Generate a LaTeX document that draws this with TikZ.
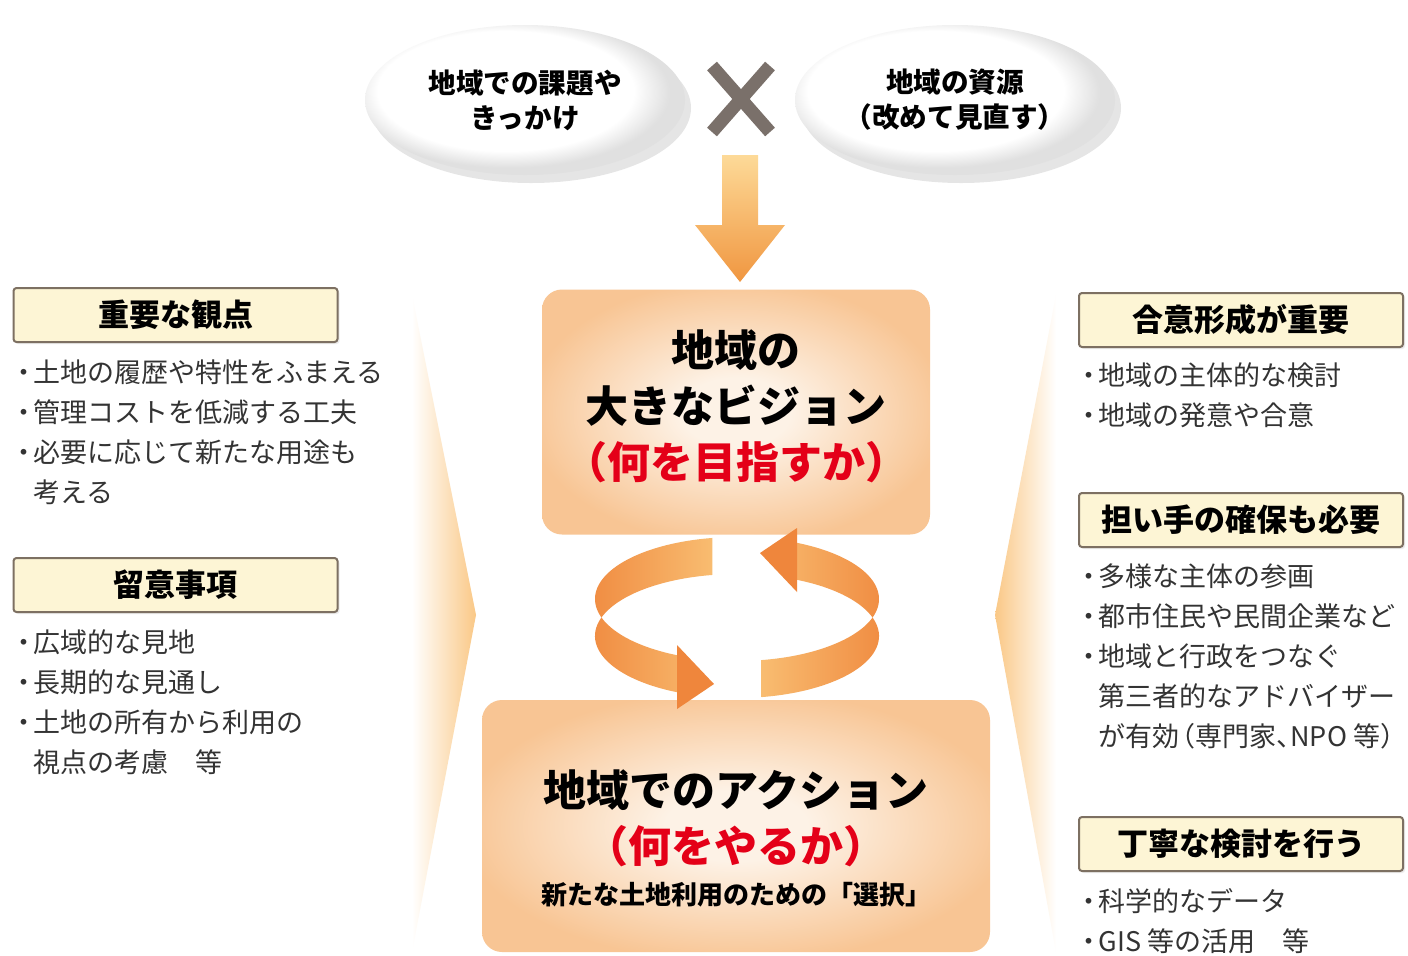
\documentclass[tikz,border=0pt]{standalone}
\usepackage{fontspec}
\setmainfont{Noto Sans CJK JP}
\usetikzlibrary{shapes.geometric, shadows}

\definecolor{boxin}{RGB}{253,242,230}
\definecolor{boxout}{RGB}{248,197,148}
\definecolor{labelfill}{RGB}{253,245,213}
\definecolor{labeldraw}{RGB}{125,112,98}
\definecolor{askred}{RGB}{228,0,24}
\definecolor{crossgray}{RGB}{122,112,106}
\definecolor{arrowtop}{RGB}{253,218,152}
\definecolor{arrowbot}{RGB}{240,150,64}
\definecolor{ringdark}{RGB}{239,134,60}
\definecolor{ringlight}{RGB}{250,198,122}
\definecolor{chevron}{RGB}{250,200,134}

\pgfdeclareradialshading{boxglow}{\pgfpoint{0bp}{0bp}}{color(0bp)=(boxin); color(7bp)=(boxin); color(27bp)=(boxout); color(50bp)=(boxout)}
\pgfdeclareradialshading{ovalglow}{\pgfpoint{-5bp}{5bp}}{color(0bp)=(white); color(20bp)=(white); color(25bp)=(black!12); color(50bp)=(black!12)}

\newcommand{\bul}{\makebox[0.75em][c]{・}}
\newcommand{\bulgap}{\hspace*{0.75em}}
\newcommand{\lp}{\makebox[0.6em][r]{（}}
\newcommand{\rp}{\makebox[0.6em][l]{）}}
\newcommand{\tou}{\makebox[0.5em][l]{、}}

\begin{document}
\begin{tikzpicture}[
    x=0.5pt, y=0.5pt,
    oval/.style={ellipse, shade, shading=ovalglow, minimum width=160pt, minimum height=75pt, align=center, font=\fontsize{13.8}{17.5}\selectfont\bfseries, drop shadow={shadow xshift=3pt, shadow yshift=-4pt, opacity=0.2}},
    stage/.style={rectangle, rounded corners=10pt, shade, shading=boxglow, align=center, font=\fontsize{21.5}{28}\selectfont\bfseries},
    heading/.style={rectangle, rounded corners=1.5pt, draw=labeldraw, line width=1pt, fill=labelfill, minimum width=162pt, minimum height=27pt, font=\fontsize{15.5}{18}\selectfont\bfseries, drop shadow={shadow xshift=1pt, shadow yshift=-1pt, opacity=0.15}},
    points/.style={anchor=north west, inner sep=0pt, align=left, text=black!80, font=\fontsize{13.5}{20}\selectfont}
]
    \useasboundingbox[fill=white] (0,0) rectangle (1408,-955);

    % side chevrons
    \shade[left color=white, right color=chevron] (412,-295) -- (476,-615) -- (412,-952) -- cycle;
    \shade[left color=chevron, right color=white] (1056,-295) -- (995,-615) -- (1056,-952) -- cycle;

    \node[oval] (issue) at (525,-100) {地域での課題や\\きっかけ};
    \node[oval] (asset) at (955,-100) {地域の資源\\\lp 改めて見直す\rp};
    \coordinate (cross) at (741,-99);
    \draw[crossgray, line width=6.5pt] (cross) ++(-29,33) -- ++(58,-66);
    \draw[crossgray, line width=6.5pt] (cross) ++(29,33) -- ++(-58,-66);

    \shade[top color=arrowtop, bottom color=arrowbot] (722,-155) -- (758,-155) -- (758,-225) -- (785,-225) -- (740,-282) -- (695,-225) -- (722,-225) -- cycle;

    \node[stage, minimum width=194pt, minimum height=122.5pt] (vision) at (736,-412) {};
    \node[align=center, font=\fontsize{21.5}{28}\selectfont\bfseries] (visiontext) at (736,-406) {地域の\\大きなビジョン\\\textcolor{askred}{\lp 何を目指すか\rp}};
    \node[stage, minimum width=254pt, minimum height=126pt] (action) at (736,-826) {};
    \node[align=center, font=\fontsize{21.5}{28}\selectfont\bfseries] (actiontext) at (736,-838) {地域でのアクション\\\textcolor{askred}{\lp 何をやるか\rp}\\[-7pt]{\fontsize{13}{16}\selectfont 新たな土地利用のための「選択」}};

    % cycle between vision and action
    \coordinate (ring) at (737,-599);
    \shade[left color=ringdark, right color=ringlight] (ring) ++(100:142 and 62) arc[start angle=100, end angle=245, x radius=142, y radius=62] -- ++(0,-37) arc[start angle=245, end angle=100, x radius=142, y radius=62] -- cycle;
    \fill[ringdark] (677,-645) -- (714,-684) -- (677,-709) -- cycle;
    \shade[left color=ringlight, right color=ringdark] (ring) ++(280:142 and 62) arc[start angle=280, end angle=425, x radius=142, y radius=62] -- ++(0,-37) arc[start angle=425, end angle=280, x radius=142, y radius=62] -- cycle;
    \fill[ringdark] (797,-528) -- (760,-553) -- (797,-592) -- cycle;

    \node[heading] (viewpoint) at (175.5,-315) {重要な観点};
    \node[points] (viewpointlist) at (13,-359) {\bul 土地の履歴や特性をふまえる\\\bul 管理コストを低減する工夫\\\bul 必要に応じて新たな用途も\\\bulgap 考える};
    \node[heading] (caution) at (175.5,-585) {留意事項};
    \node[points] (cautionlist) at (13,-629) {\bul 広域的な見地\\\bul 長期的な見通し\\\bul 土地の所有から利用の\\\bulgap 視点の考慮　等};

    \node[heading] (consensus) at (1241,-320) {合意形成が重要};
    \node[points] (consensuslist) at (1078,-362) {\bul 地域の主体的な検討\\\bul 地域の発意や合意};
    \node[heading] (bearer) at (1241,-520) {担い手の確保も必要};
    \node[points] (bearerlist) at (1078,-563) {\bul 多様な主体の参画\\\bul 都市住民や民間企業など\\\bul 地域と行政をつなぐ\\\bulgap 第三者的なアドバイザー\\\bulgap が有効\lp 専門家\tou NPO 等\rp};
    \node[heading] (careful) at (1241,-844) {丁寧な検討を行う};
    \node[points] (carefullist) at (1078,-888) {\bul 科学的なデータ\\\bul GIS 等の活用　等};
\end{tikzpicture}
\end{document}
